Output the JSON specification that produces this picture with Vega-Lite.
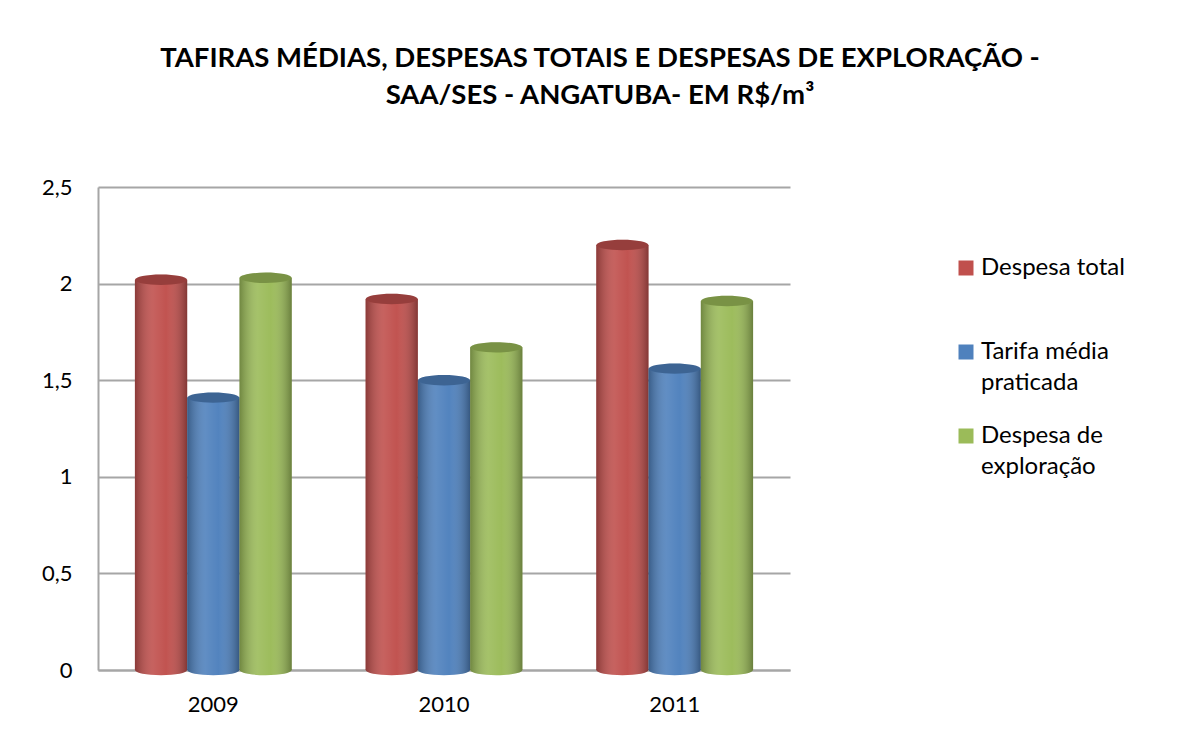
{
  "$schema": "https://vega.github.io/schema/vega-lite/v6.json",
  "autosize": "none",
  "width": 692,
  "height": 483,
  "padding": {"left": 98, "top": 187, "right": 389, "bottom": 68},
  "background": "white",
  "title": {
    "text": ["TAFIRAS MÉDIAS, DESPESAS TOTAIS E DESPESAS DE EXPLORAÇÃO -", "SAA/SES - ANGATUBA- EM R$/m³"],
    "font": "Lato",
    "fontSize": 27.5,
    "fontWeight": "bold",
    "color": "#000000",
    "lineHeight": 37,
    "anchor": "middle",
    "dx": 156,
    "offset": 67
  },
  "data": {
    "values": [
      {"ano": "2009", "serie": "Despesa total", "valor": 2.02},
      {"ano": "2009", "serie": "Tarifa média praticada", "valor": 1.41},
      {"ano": "2009", "serie": "Despesa de exploração", "valor": 2.03},
      {"ano": "2010", "serie": "Despesa total", "valor": 1.92},
      {"ano": "2010", "serie": "Tarifa média praticada", "valor": 1.50},
      {"ano": "2010", "serie": "Despesa de exploração", "valor": 1.67},
      {"ano": "2011", "serie": "Despesa total", "valor": 2.20},
      {"ano": "2011", "serie": "Tarifa média praticada", "valor": 1.56},
      {"ano": "2011", "serie": "Despesa de exploração", "valor": 1.91}
    ]
  },
  "encoding": {
    "x": {
      "field": "ano",
      "type": "nominal",
      "title": null,
      "scale": {"paddingInner": 0.32, "paddingOuter": 0.16},
      "axis": {
        "labelAngle": 0,
        "labelFont": "Lato",
        "labelFontSize": 22,
        "labelColor": "#000000",
        "labelPadding": 24,
        "ticks": false,
        "domainColor": "#A6A6A6",
        "domainWidth": 2
      }
    },
    "xOffset": {
      "field": "serie",
      "type": "nominal",
      "sort": ["Despesa total", "Tarifa média praticada", "Despesa de exploração"],
      "scale": {"paddingInner": 0}
    }
  },
  "layer": [
    {
      "mark": {"type": "point", "filled": true, "shape": "M -1 0 A 1 0.2 0 1 0 1 0 A 1 0.2 0 1 0 -1 0 Z", "size": 2700, "opacity": 1, "strokeWidth": 0},
      "encoding": {
        "y": {"datum": 0, "type": "quantitative"},
        "color": {"field": "serie", "type": "nominal"}
      }
    },
    {
      "mark": {"type": "point", "filled": true, "shape": "M -1 0 A 1 0.2 0 1 0 1 0 A 1 0.2 0 1 0 -1 0 Z", "size": 2700, "opacity": 1, "strokeWidth": 0,
        "fill": {"gradient": "linear", "x1": 0, "x2": 1, "y1": 0, "y2": 0, "stops": [
          {"offset": 0, "color": "rgba(0,0,0,0.28)"},
          {"offset": 0.35, "color": "rgba(255,255,255,0.10)"},
          {"offset": 0.6, "color": "rgba(255,255,255,0.02)"},
          {"offset": 1, "color": "rgba(0,0,0,0.32)"}
        ]}},
      "encoding": {
        "y": {"datum": 0, "type": "quantitative"}
      }
    },
    {
      "mark": {"type": "bar", "cornerRadius": 0},
      "encoding": {
        "y": {
          "field": "valor",
          "type": "quantitative",
          "title": null,
          "scale": {"domain": [0, 2.5], "nice": false},
          "axis": {
            "values": [0, 0.5, 1, 1.5, 2, 2.5],
            "labelExpr": "replace(format(datum.value, '~g'), '.', ',')",
            "labelFont": "Lato",
            "labelFontSize": 22,
            "labelColor": "#000000",
            "labelPadding": 26,
            "ticks": false,
            "grid": true,
            "gridColor": "#A6A6A6",
            "gridWidth": 2,
            "domainColor": "#A6A6A6",
            "domainWidth": 2
          }
        },
        "color": {
          "field": "serie",
          "type": "nominal",
          "sort": ["Despesa total", "Tarifa média praticada", "Despesa de exploração"],
          "scale": {
            "domain": ["Despesa total", "Tarifa média praticada", "Despesa de exploração"],
            "range": ["#C0504D", "#4F81BD", "#9BBB59"]
          },
          "legend": {
            "title": null,
            "orient": "none",
            "legendX": 856,
            "legendY": 69,
            "symbolType": "square",
            "symbolSize": 225,
            "symbolStrokeWidth": 0,
            "symbolOpacity": 1,
            "labelFont": "Lato",
            "labelFontSize": 24,
            "labelColor": "#000000",
            "labelLimit": 300,
            "labelBaseline": "middle",
            "labelOffset": 3,
            "rowPadding": 29,
            "labelExpr": "datum.label == 'Tarifa média praticada' ? ['Tarifa média', 'praticada'] : datum.label == 'Despesa de exploração' ? ['Despesa de', 'exploração'] : [datum.label, ' ']"
          }
        }
      }
    },
    {
      "mark": {"type": "bar", "cornerRadius": 0,
        "fill": {"gradient": "linear", "x1": 0, "x2": 1, "y1": 0, "y2": 0, "stops": [
          {"offset": 0, "color": "rgba(0,0,0,0.28)"},
          {"offset": 0.35, "color": "rgba(255,255,255,0.10)"},
          {"offset": 0.6, "color": "rgba(255,255,255,0.02)"},
          {"offset": 1, "color": "rgba(0,0,0,0.32)"}
        ]}},
      "encoding": {
        "y": {"field": "valor", "type": "quantitative"}
      }
    },
    {
      "mark": {"type": "point", "filled": true, "shape": "M -1 0 A 1 0.2 0 1 0 1 0 A 1 0.2 0 1 0 -1 0 Z", "size": 2700, "opacity": 1, "strokeWidth": 0},
      "encoding": {
        "y": {"field": "valor", "type": "quantitative"},
        "color": {"field": "serie", "type": "nominal"}
      }
    },
    {
      "mark": {"type": "point", "filled": true, "shape": "M -1 0 A 1 0.2 0 1 0 1 0 A 1 0.2 0 1 0 -1 0 Z", "size": 2700, "opacity": 1, "strokeWidth": 0, "fill": "rgba(0,0,0,0.22)"},
      "encoding": {
        "y": {"field": "valor", "type": "quantitative"}
      }
    }
  ],
  "config": {
    "view": {"stroke": null},
    "style": {"guide-label": {"lineHeight": 31}}
  }
}
